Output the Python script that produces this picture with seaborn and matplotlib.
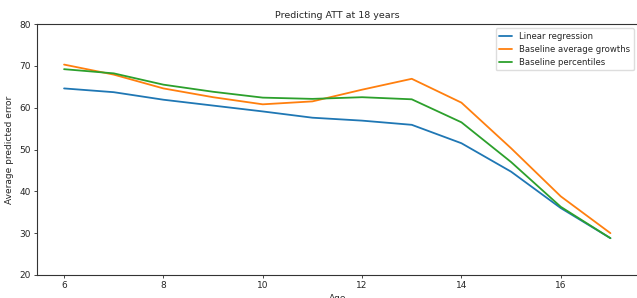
import numpy as np
import pandas as pd
import matplotlib
matplotlib.use("Agg")
import matplotlib.pyplot as plt
import seaborn as sns

# values
ages = [6, 7, 8, 9, 10, 11, 12, 13, 14, 15, 16, 17]
linear_regression = [64.6, 63.7, 61.9, 60.5, 59.1, 57.6, 56.9, 55.9, 51.5, 44.7, 36.0, 28.8]
baseline_avg_growths = [70.3, 67.9, 64.6, 62.5, 60.8, 61.5, 64.3, 66.9, 61.2, 50.3, 38.8, 30.0]
baseline_percentiles = [69.2, 68.2, 65.5, 63.8, 62.4, 62.1, 62.5, 62.0, 56.5, 47.0, 36.3, 28.8]
series_names = ["Linear regression", "Baseline average growths", "Baseline percentiles"]

df = pd.DataFrame({
    "Age": ages * 3,
    "error": linear_regression + baseline_avg_growths + baseline_percentiles,
    "model": [series_names[0]] * len(ages) + [series_names[1]] * len(ages) + [series_names[2]] * len(ages),
})

sns.set_style("ticks")
plt.rcParams["font.family"] = ["DejaVu Sans"]

fig = plt.figure(figsize=(6.37, 2.98), dpi=100)
ax = fig.add_axes([37 / 637, 23 / 298, 601 / 637, 251 / 298])

sns.lineplot(
    data=df, x="Age", y="error", hue="model",
    palette=["#1f77b4", "#ff7f0e", "#2ca02c"], linewidth=1.3, ax=ax,
)

ax.set_ylim(20, 80)
ax.set_xlim(5.455, 17.555)
ax.set_xticks([6, 8, 10, 12, 14, 16])
ax.set_yticks([20, 30, 40, 50, 60, 70, 80])
ax.tick_params(labelsize=6.5, length=2.5, width=0.6, pad=2)
for s in ax.spines.values():
    s.set_linewidth(0.8)
    s.set_color("#333333")

ax.set_title("Predicting ATT at 18 years", fontsize=6.8, pad=4)
ax.set_xlabel("Age", fontsize=6.5, labelpad=3)
ax.set_ylabel("Average predicted error", fontsize=6.5, labelpad=4)
ax.legend(title=None, fontsize=6.1, loc="upper right", handlelength=1.6,
          borderaxespad=0.5, framealpha=1, edgecolor="#dddddd")

fig.savefig("out.png", dpi=100)
